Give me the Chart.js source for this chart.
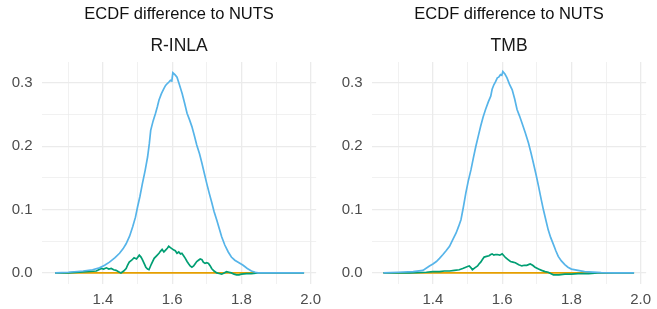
<!DOCTYPE html>
<html>
<head>
<meta charset="utf-8">
<script src="https://cdn.jsdelivr.net/npm/chart.js@4/dist/chart.umd.min.js"></script>
<style>
  html, body { margin: 0; padding: 0; background: #fff; overflow: hidden; }
  #wrap { position: relative; width: 657px; height: 309px; overflow: hidden; }
  .panel { position: absolute; top: 0; width: 328px; height: 309px; }
</style>
</head>
<body>
<div id="wrap">
  <div class="panel" style="left:0px"><canvas id="c1" width="328" height="309"></canvas></div>
  <div class="panel" style="left:330px"><canvas id="c2" width="328" height="309"></canvas></div>
</div>
<script>
// ---------- data ----------
const mainTitle = "ECDF difference to NUTS";
const panelNames = ["R-INLA", "TMB"];
const xTicks = [1.3, 1.4, 1.5, 1.6, 1.7, 1.8, 1.9, 2.0];
const yTicks = [0, 0.05, 0.1, 0.15, 0.2, 0.25, 0.3];

// R-INLA panel, blue series
const inlaBlueX = [1.262,1.300,1.343,1.370,1.390,1.405,1.419,1.435,1.448,1.458,1.467,1.477,1.486,1.494,1.500,1.507,1.514,1.522,1.529,1.534,1.538,1.545,1.552,1.557,1.562,1.569,1.576,1.581,1.586,1.590,1.595,1.599,1.602,1.608,1.614,1.621,1.629,1.636,1.643,1.650,1.657,1.664,1.671,1.679,1.686,1.693,1.700,1.707,1.714,1.721,1.729,1.736,1.743,1.752,1.762,1.771,1.781,1.793,1.805,1.817,1.829,1.840,1.848,1.900,1.981];
const inlaBlueY = [0.000,0.001,0.003,0.005,0.008,0.012,0.017,0.024,0.031,0.038,0.046,0.058,0.073,0.088,0.104,0.121,0.141,0.162,0.183,0.204,0.225,0.240,0.252,0.262,0.273,0.283,0.291,0.296,0.299,0.301,0.304,0.303,0.316,0.313,0.309,0.297,0.283,0.268,0.252,0.242,0.231,0.217,0.202,0.188,0.173,0.157,0.141,0.126,0.112,0.097,0.083,0.070,0.057,0.044,0.033,0.025,0.020,0.016,0.012,0.007,0.003,0.001,0.000,0.000,0.000];

// R-INLA panel, green series
const inlaGreenX = [1.262,1.300,1.352,1.381,1.395,1.402,1.410,1.417,1.424,1.431,1.438,1.445,1.452,1.460,1.467,1.471,1.476,1.483,1.490,1.497,1.505,1.510,1.514,1.519,1.524,1.529,1.533,1.540,1.548,1.555,1.562,1.566,1.571,1.576,1.581,1.586,1.590,1.595,1.600,1.605,1.609,1.614,1.619,1.624,1.628,1.633,1.638,1.643,1.648,1.652,1.657,1.662,1.667,1.671,1.676,1.681,1.686,1.690,1.695,1.700,1.705,1.710,1.714,1.721,1.729,1.736,1.743,1.750,1.757,1.764,1.771,1.779,1.786,1.793,1.800,1.815,1.829,1.848,1.900,1.981];
const inlaGreenY = [0.000,0.000,0.002,0.003,0.007,0.006,0.008,0.006,0.007,0.005,0.004,0.002,0.000,0.003,0.007,0.012,0.017,0.020,0.024,0.022,0.028,0.025,0.021,0.015,0.009,0.006,0.005,0.014,0.023,0.027,0.031,0.034,0.037,0.033,0.036,0.039,0.042,0.040,0.038,0.036,0.035,0.031,0.033,0.030,0.031,0.027,0.023,0.018,0.014,0.011,0.009,0.011,0.015,0.018,0.020,0.022,0.021,0.017,0.015,0.016,0.015,0.011,0.007,0.003,0.000,-0.001,-0.002,0.000,0.002,0.001,0.000,-0.002,-0.003,-0.003,-0.002,-0.001,-0.001,0.000,0.000,0.000];

// R-INLA panel, orange series
const inlaOrangeX = [1.262, 1.981];
const inlaOrangeY = [0.000, 0.000];

// TMB panel, blue series
const tmbBlueX = [1.257,1.300,1.343,1.371,1.390,1.400,1.410,1.419,1.429,1.438,1.448,1.457,1.467,1.474,1.481,1.488,1.495,1.502,1.510,1.517,1.524,1.531,1.538,1.545,1.552,1.560,1.567,1.571,1.576,1.581,1.586,1.590,1.595,1.599,1.602,1.608,1.614,1.621,1.629,1.636,1.643,1.650,1.657,1.667,1.676,1.683,1.690,1.698,1.705,1.712,1.719,1.726,1.733,1.740,1.748,1.755,1.762,1.771,1.781,1.790,1.800,1.819,1.838,1.886,1.924,1.981];
const tmbBlueY = [0.000,0.001,0.002,0.004,0.011,0.014,0.018,0.023,0.029,0.035,0.042,0.052,0.063,0.073,0.084,0.104,0.126,0.145,0.163,0.182,0.200,0.216,0.232,0.246,0.258,0.270,0.279,0.290,0.297,0.302,0.308,0.309,0.313,0.312,0.318,0.314,0.308,0.298,0.289,0.275,0.258,0.248,0.237,0.221,0.205,0.190,0.174,0.155,0.137,0.118,0.100,0.084,0.068,0.056,0.045,0.035,0.026,0.019,0.013,0.009,0.006,0.004,0.002,0.0005,0.000,0.000];

// TMB panel, green series
const tmbGreenX = [1.257,1.333,1.381,1.400,1.419,1.433,1.448,1.462,1.476,1.486,1.495,1.500,1.505,1.510,1.514,1.521,1.529,1.533,1.538,1.543,1.548,1.555,1.562,1.567,1.571,1.576,1.581,1.586,1.593,1.600,1.605,1.610,1.617,1.624,1.631,1.638,1.648,1.657,1.664,1.671,1.676,1.681,1.688,1.695,1.705,1.714,1.724,1.733,1.740,1.748,1.764,1.781,1.800,1.819,1.850,1.876,1.981];
const tmbGreenY = [0.000,0.000,0.001,0.002,0.002,0.003,0.003,0.004,0.005,0.007,0.009,0.010,0.011,0.008,0.005,0.008,0.011,0.014,0.017,0.021,0.025,0.026,0.027,0.029,0.030,0.028,0.029,0.029,0.028,0.030,0.027,0.024,0.021,0.018,0.017,0.016,0.013,0.011,0.012,0.012,0.013,0.014,0.012,0.009,0.006,0.004,0.002,0.001,-0.001,-0.003,-0.003,-0.002,-0.002,-0.001,-0.001,0.000,0.000];

// TMB panel, orange series
const tmbOrangeX = [1.257, 1.981];
const tmbOrangeY = [0.000, 0.000];

// ---------- drawing ----------
const COL_BLUE = "#56B4E9", COL_GREEN = "#009E73", COL_ORANGE = "#E69F00";
const FONT = "'Liberation Sans', Arial, Helvetica, sans-serif";

function pts(xs, ys) { return xs.map((x, i) => ({ x: x, y: ys[i] })); }
function ds(xs, ys, color) {
  return { data: pts(xs, ys), borderColor: color, backgroundColor: color,
           borderWidth: 1.7, pointRadius: 0, tension: 0, fill: false };
}
const isMajorX = v => Math.round(v * 10) % 2 === 0;
const isMajorY = v => Math.round(v * 100) % 10 === 0;

function makeChart(id, name, series) {
  new Chart(document.getElementById(id), {
    type: "line",
    data: { datasets: series },
    options: {
      responsive: false,
      animation: false,
      events: [],
      layout: { padding: { left: 10, right: 8.8, top: 0, bottom: 0 } },
      plugins: {
        legend: { display: false },
        tooltip: { enabled: false },
        title: { display: true, text: mainTitle, fullSize: false, color: "#111111",
                 font: { family: FONT, size: 16.5, weight: "normal", lineHeight: 1.2 },
                 padding: { top: 4.3, bottom: 0 } },
        subtitle: { display: true, text: name, fullSize: false, color: "#1A1A1A",
                    font: { family: FONT, size: 17.5, weight: "normal", lineHeight: 1.2 },
                    padding: { top: 11.7, bottom: 5.2 } }
      },
      scales: {
        x: {
          type: "linear", min: 1.224, max: 2.016,
          afterBuildTicks: axis => { axis.ticks = xTicks.map(v => ({ value: v })); },
          afterFit: axis => { axis.height = 24.7; },
          border: { display: false },
          grid: { drawTicks: false, color: "#EBEBEB",
                  lineWidth: ctx => (ctx.tick && isMajorX(ctx.tick.value)) ? 1.3 : 0.7 },
          ticks: { padding: 6.7, color: "#4D4D4D", maxRotation: 0, autoSkip: false,
                   font: { family: FONT, size: 15 },
                   callback: v => isMajorX(v) ? v.toFixed(1) : "" }
        },
        y: {
          type: "linear", min: -0.018, max: 0.333,
          afterBuildTicks: axis => { axis.ticks = yTicks.map(v => ({ value: v })); },
          afterFit: axis => { axis.width = 32; },
          border: { display: false },
          grid: { drawTicks: false, color: "#EBEBEB",
                  lineWidth: ctx => (ctx.tick && isMajorY(ctx.tick.value)) ? 1.3 : 0.7 },
          ticks: { padding: 9.5, color: "#4D4D4D", autoSkip: false,
                   font: { family: FONT, size: 15 },
                   callback: v => isMajorY(v) ? v.toFixed(1) : "" }
        }
      }
    }
  });
}

makeChart("c1", panelNames[0], [
  ds(inlaBlueX, inlaBlueY, COL_BLUE),
  ds(inlaGreenX, inlaGreenY, COL_GREEN),
  ds(inlaOrangeX, inlaOrangeY, COL_ORANGE)
]);
makeChart("c2", panelNames[1], [
  ds(tmbBlueX, tmbBlueY, COL_BLUE),
  ds(tmbGreenX, tmbGreenY, COL_GREEN),
  ds(tmbOrangeX, tmbOrangeY, COL_ORANGE)
]);
</script>
</body>
</html>
